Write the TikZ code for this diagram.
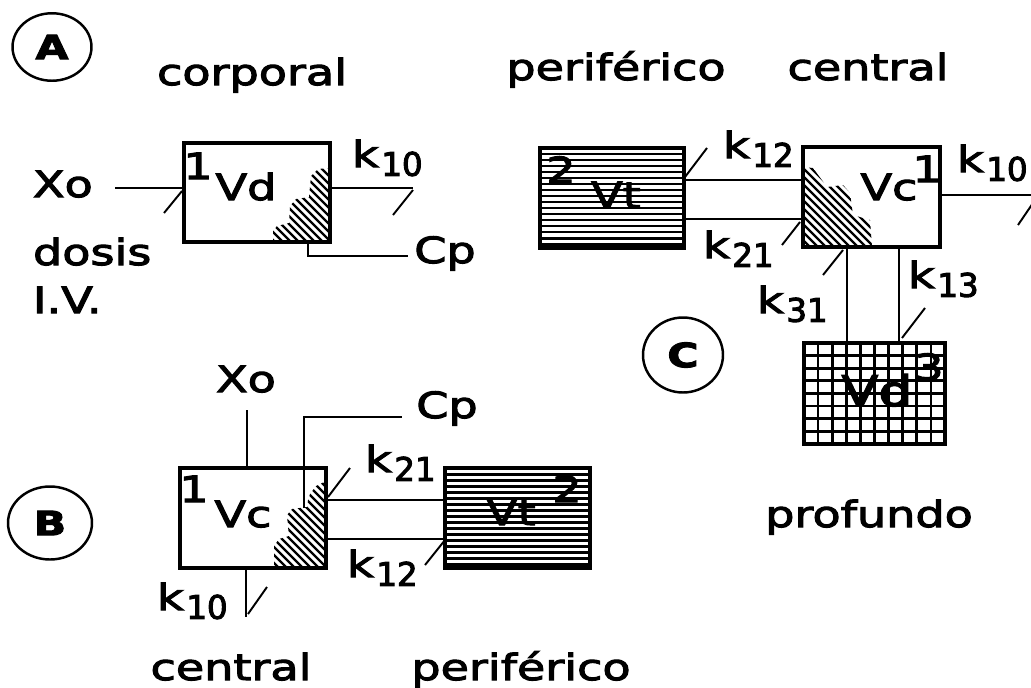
\documentclass[tikz,border=0pt]{standalone}
\usepackage{fontspec}
\setmainfont{DejaVu Sans}[FakeStretch=1.28,FakeBold=3]
\newfontfamily\digfont{DejaVu Sans}[FakeBold=3]
\usetikzlibrary{shapes.geometric}
\newcommand\kk[1]{k\kern1.5pt\raisebox{-5pt}{\digfont\fontsize{18.5}{20}\selectfont #1}}
\newcommand\hatchlines[2]{\foreach \d in {0,8,...,240} \draw[line width=1.25pt] ({#1-120+\d},#2) -- ++(130,130);}
\newcommand\horzlines[3]{\foreach \yy in {#3} \draw[line width=1.7pt] (#1,\yy) -- (#2,\yy);}
\begin{document}
\begin{tikzpicture}[x=0.02cm,y=-0.02cm,
  bx/.style={draw,line width=1.8pt,inner sep=0,outer sep=0},
  ln/.style={line width=1.2pt},
  tk/.style={line width=1.1pt},
  t/.style={inner sep=0,outer sep=0,anchor=base,font=\fontsize{20.5}{24}\selectfont},
  tl/.style={t,anchor=base west},
  circ/.style={draw,ellipse,line width=1.4pt,inner sep=0,font=\fontsize{19}{22}\selectfont\bfseries}]
\clip (0,0) rectangle (1031,687);
% ---------------- A ----------------
\node[circ,minimum width=1.58cm,minimum height=1.35cm] (cA) at (52,47) {A};
\node[t] (corporal) at (252,85) {corporal};
\node[bx,minimum width=2.92cm,minimum height=1.98cm] (vdA) at (257,192.5) {};
\begin{scope}
\clip (330,168) -- (318,169) -- (311,176) -- (309,197) -- (296,199) -- (290,206) -- (289,223) -- (277,226) -- (273,231) -- (273,242) -- (330,242) -- cycle;
\hatchlines{273}{160}
\end{scope}
\node[t] (oneA) at (198,179) {1};
\node[t] (vdAt) at (246,200) {Vd};
\node[tl] (xoA) at (33,197) {Xo};
\coordinate (xoAs) at (115,188);
\draw[ln] (xoAs) -- (xoAs -| vdA.west);
\draw[tk] (164,213) -- (182,191);
\node[tl] (k10A) at (352,167) {\kk{10}};
\coordinate (k10Ae) at (413,188);
\draw[ln] (k10Ae -| vdA.east) -- (k10Ae);
\draw[tk] (393,215) -- (413,190);
\node[t] (cpA) at (445,263) {Cp};
\coordinate (cpAc) at (308,256);
\coordinate (cpAe) at (408,256);
\draw[ln] (cpAc |- vdA.south) -- (cpAc) -- (cpAe);
\node[tl] (dosis) at (33,265) {dosis};
\node[tl] (iv) at (33,313) {I.V.};
% ---------------- C ----------------
\node[t] (perC) at (616,80) {periférico};
\node[t] (cenC) at (868,80) {central};
\horzlines{541}{683}{154,160,...,244}
\node[t] (twoC) at (561,183) {2};
\node[t] (vtCt) at (616,208) {Vt};
\node[bx,minimum width=2.88cm,minimum height=2cm] (vtC) at (612,198) {};
\node[bx,minimum width=2.74cm,minimum height=2cm] (vcC) at (871.5,197) {};
\begin{scope}
\clip (803,167) -- (813,168) -- (827,187) -- (843,185) -- (850,193) -- (853,215) -- (870,220) -- (872,247) -- (803,247) -- cycle;
\hatchlines{803}{160}
\end{scope}
\node[t] (vcCt) at (889,200) {Vc};
\node[t] (oneC) at (927,182) {1};
\node[tl] (k10C) at (957,172) {\kk{10}};
\coordinate (k10Ce) at (1031,195);
\draw[ln] (k10Ce -| vcC.east) -- (k10Ce);
\draw[tk] (1018,225) -- (1033,203);
\coordinate (uC) at (700,180);
\coordinate (lC) at (700,219);
\draw[ln] (uC -| vtC.east) -- (uC -| vcC.west);
\draw[ln] (lC -| vtC.east) -- (lC -| vcC.west);
\node[tl] (k12C) at (723,158) {\kk{12}};
\draw[tk] (685,177) -- (707,148);
\node[tl] (k21C) at (703,258) {\kk{21}};
\draw[tk] (782,245) -- (800,222);
\node[bx,minimum width=2.82cm,minimum height=2.02cm] (vdC) at (874.5,393.5) {};
\foreach \i in {1,...,9} \draw[line width=1.5pt] ({804+\i*14.1},343) -- ({804+\i*14.1},444);
\foreach \j in {1,...,7} \draw[line width=1.5pt] (804,{343+\j*12.6}) -- (945,{343+\j*12.6});
\node[t,font=\fontsize{24}{28}\selectfont] (vdCt) at (877,406) {Vd};
\node[t] (threeC) at (929,380) {3};
\coordinate (vlC) at (847,300);
\coordinate (vrC) at (899,300);
\draw[ln] (vlC |- vcC.south) -- (vlC |- vdC.north);
\draw[ln] (vrC |- vcC.south) -- (vrC |- vdC.north);
\node[tl] (k31C) at (757,313) {\kk{31}};
\draw[tk] (823,275) -- (843,250);
\node[tl] (k13C) at (908,288) {\kk{13}};
\draw[tk] (902,338) -- (925,308);
\node[circ,minimum width=1.6cm,minimum height=1.5cm] (cC) at (683,355) {C};
\node[t] (prof) at (869,527) {profundo};
% ---------------- B ----------------
\node[circ,minimum width=1.68cm,minimum height=1.46cm] (cB) at (50,523) {B};
\node[bx,minimum width=2.92cm,minimum height=2cm] (vcB) at (253,518) {};
\begin{scope}
\clip (326,481) -- (316,486) -- (310,494) -- (308,500) -- (307,507) -- (292,509) -- (287,515) -- (288,527) -- (289,536) -- (279,539) -- (274,546) -- (274,568) -- (326,568) -- cycle;
\hatchlines{274}{475}
\end{scope}
\node[t] (oneB) at (194,502) {1};
\node[t] (vcBt) at (243,527) {Vc};
\node[t] (xoB) at (246,392) {Xo};
\coordinate (xoBs) at (247,410);
\draw[ln] (xoBs) -- (xoBs |- vcB.north);
\node[t] (cpB) at (447,418) {Cp};
\coordinate (cpBs) at (304,508);
\coordinate (cpBc) at (304,417);
\coordinate (cpBe) at (402,417);
\draw[ln] (cpBs) -- (cpBc) -- (cpBe);
\horzlines{446}{589}{474,480,...,564}
\node[t] (vtBt) at (511,525) {Vt};
\node[t] (twoB) at (567,502) {2};
\node[bx,minimum width=2.9cm,minimum height=2cm] (vtB) at (517.5,518) {};
\coordinate (uB) at (400,500);
\coordinate (lB) at (400,539);
\draw[ln] (uB -| vcB.east) -- (uB -| vtB.west);
\draw[ln] (lB -| vcB.east) -- (lB -| vtB.west);
\node[tl] (k21B) at (365,472) {\kk{21}};
\draw[tk] (328,497) -- (350,468);
\node[tl] (k12B) at (347,577) {\kk{12}};
\draw[tk] (425,565) -- (445,540);
\node[tl] (k10B) at (157,610) {\kk{10}};
\coordinate (k10Bb) at (246,617);
\draw[ln] (k10Bb |- vcB.south) -- (k10Bb);
\draw[tk] (248,614) -- (267,587);
\node[t] (cenB) at (231,680) {central};
\node[t] (perB) at (521,680) {periférico};
\end{tikzpicture}
\end{document}
